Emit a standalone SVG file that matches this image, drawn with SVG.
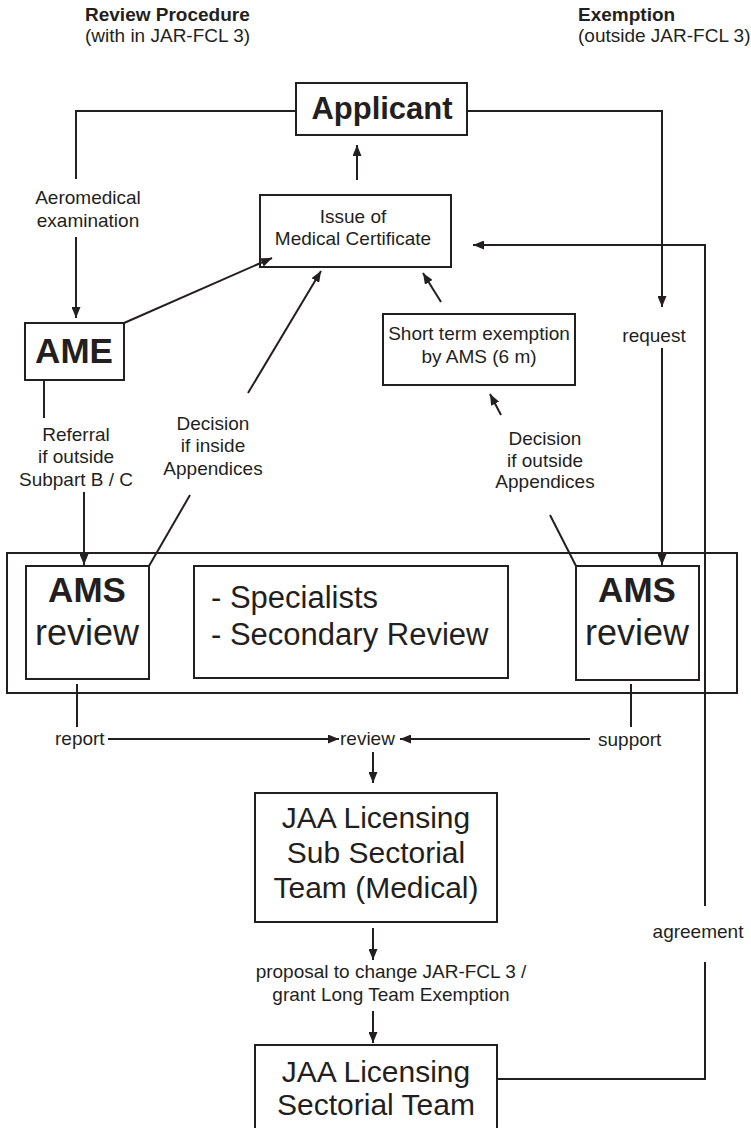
<svg xmlns="http://www.w3.org/2000/svg" width="751" height="1128" viewBox="0 0 751 1128">
<style>
text{font-family:"Liberation Sans",Arial,Helvetica,sans-serif;fill:#231f20}
.s{font-size:19px}
.sb{font-size:19px;font-weight:bold}
.c{text-anchor:middle}
.box{fill:none;stroke:#231f20;stroke-width:2}
.ln{fill:none;stroke:#231f20;stroke-width:2}
.ar{fill:none;stroke:#231f20;stroke-width:2;marker-end:url(#ah)}
</style>
<defs>
<marker id="ah" markerUnits="userSpaceOnUse" markerWidth="11" markerHeight="9" refX="11" refY="4.5" orient="auto">
<path d="M0,0 L11,4.5 L0,9 z" fill="#231f20"/>
</marker>
</defs>
<rect width="751" height="1128" fill="#fff"/>
<g id="titles">
<text class="sb" x="85" y="21">Review Procedure</text>
<text class="s" x="85" y="42">(with in JAR-FCL 3)</text>
<text class="sb" x="578" y="21">Exemption</text>
<text class="s" x="578" y="42">(outside JAR-FCL 3)</text>
</g>
<g id="applicant">
<rect class="box" x="296" y="83" width="171" height="52"/>
<text class="c" x="382" y="119" style="font-size:31px;font-weight:bold">Applicant</text>
</g>
<g id="issue">
<rect class="box" x="260" y="195" width="191" height="72"/>
<text class="s c" x="353" y="223">Issue of</text>
<text class="s c" x="353" y="245">Medical Certificate</text>
</g>
<g id="ame">
<rect class="box" x="25" y="323" width="99" height="57"/>
<text class="c" x="74" y="363" style="font-size:35px;font-weight:bold">AME</text>
</g>
<g id="shortterm">
<rect class="box" x="383" y="314" width="192" height="71"/>
<text class="s c" x="479" y="340">Short term exemption</text>
<text class="s c" x="479" y="363">by AMS (6 m)</text>
</g>
<g id="reviewgroup">
<rect class="box" x="7" y="553" width="730" height="140"/>
</g>
<g id="ams-left">
<rect class="box" x="26" y="566" width="123" height="113"/>
<text class="c" x="87" y="602" style="font-size:35px;font-weight:bold">AMS</text>
<text class="c" x="87" y="645" style="font-size:36px">review</text>
</g>
<g id="specialists">
<rect class="box" x="194" y="566" width="314" height="112"/>
<text x="211" y="608" style="font-size:31px">- Specialists</text>
<text x="211" y="645" style="font-size:31px">- Secondary Review</text>
</g>
<g id="ams-right">
<rect class="box" x="576" y="566" width="123" height="114"/>
<text class="c" x="637" y="602" style="font-size:35px;font-weight:bold">AMS</text>
<text class="c" x="637" y="645" style="font-size:36px">review</text>
</g>
<g id="subsectorial">
<rect class="box" x="255" y="793" width="242" height="129"/>
<text class="c" x="376" y="828" style="font-size:30px">JAA Licensing</text>
<text class="c" x="376" y="863" style="font-size:30px">Sub Sectorial</text>
<text class="c" x="376" y="898" style="font-size:30px">Team (Medical)</text>
</g>
<g id="sectorial">
<rect class="box" x="255" y="1045" width="242" height="100"/>
<text class="c" x="376" y="1082" style="font-size:30px">JAA Licensing</text>
<text class="c" x="376" y="1115" style="font-size:30px">Sectorial Team</text>
</g>
<g id="connectors">
<polyline class="ln" points="296,111 76,111 76,179"/>
<line class="ar" x1="76" y1="237" x2="76" y2="318"/>
<polyline class="ar" points="467,111 662,111 662,307"/>
<line class="ar" x1="662" y1="348" x2="662" y2="565"/>
<line class="ar" x1="357" y1="180" x2="357" y2="145"/>
<line class="ar" x1="124" y1="323" x2="272" y2="258"/>
<line class="ln" x1="44" y1="380" x2="44" y2="418"/>
<line class="ar" x1="84" y1="492" x2="84" y2="565"/>
<line class="ln" x1="149" y1="566" x2="190" y2="495"/>
<line class="ar" x1="248" y1="393" x2="321" y2="271"/>
<line class="ar" x1="441" y1="302" x2="423" y2="273"/>
<line class="ar" x1="501" y1="415" x2="490" y2="394"/>
<line class="ln" x1="576" y1="566" x2="550" y2="515"/>
<polyline class="ar" points="705,906 705,245 473,245"/>
<polyline class="ln" points="497,1079 705,1079 705,962"/>
<line class="ln" x1="77" y1="684" x2="77" y2="727"/>
<line class="ar" x1="108" y1="739" x2="339" y2="739"/>
<line class="ln" x1="631" y1="684" x2="631" y2="727"/>
<line class="ar" x1="590" y1="739" x2="400" y2="739"/>
<line class="ar" x1="373" y1="752" x2="373" y2="783"/>
<line class="ar" x1="373" y1="928" x2="373" y2="960"/>
<line class="ar" x1="373" y1="1011" x2="373" y2="1043"/>
</g>
<g id="labels">
<text class="s c" x="88" y="204">Aeromedical</text>
<text class="s c" x="88" y="227">examination</text>
<text class="s c" x="76" y="441">Referral</text>
<text class="s c" x="76" y="463">if outside</text>
<text class="s c" x="76" y="486">Subpart B / C</text>
<text class="s c" x="213" y="430">Decision</text>
<text class="s c" x="213" y="452">if inside</text>
<text class="s c" x="213" y="475">Appendices</text>
<text class="s c" x="545" y="445">Decision</text>
<text class="s c" x="545" y="467">if outside</text>
<text class="s c" x="545" y="488">Appendices</text>
<text class="s c" x="654" y="342">request</text>
<text class="s" x="55" y="745">report</text>
<text class="s" x="340" y="745">review</text>
<text class="s" x="598" y="746">support</text>
<text class="s c" x="698" y="938">agreement</text>
<text class="s c" x="391" y="978">proposal to change JAR-FCL 3 /</text>
<text class="s c" x="391" y="1001">grant Long Team Exemption</text>
</g>
</svg>
